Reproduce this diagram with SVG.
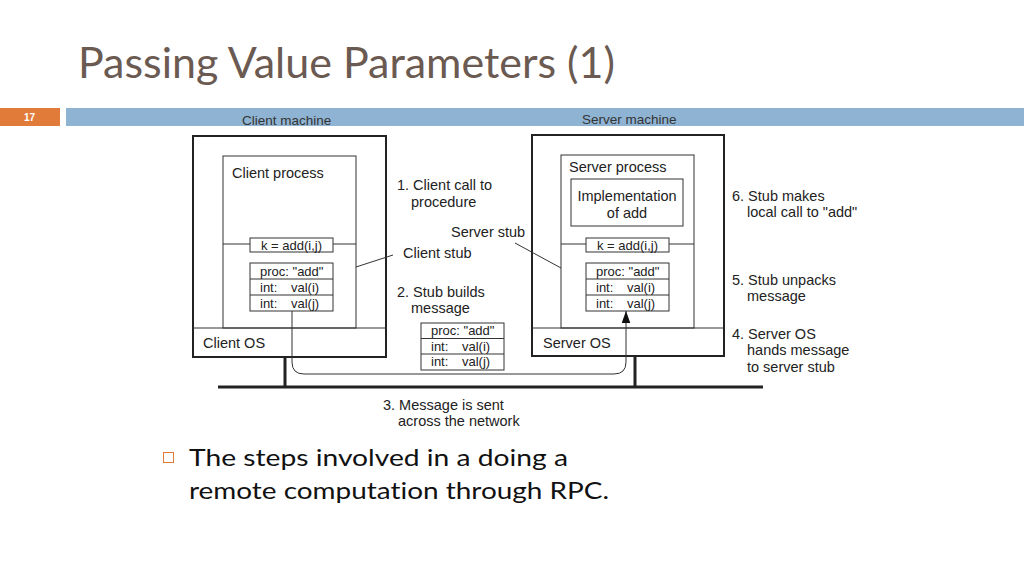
<svg xmlns="http://www.w3.org/2000/svg" width="1024" height="576" viewBox="0 0 1024 576">
<style>
.t{font-family:"Liberation Sans",Arial,sans-serif;font-size:14.5px;fill:#222}
.s{font-family:"Liberation Sans",Arial,sans-serif;font-size:13px;fill:#222}
.outer{fill:none;stroke:#222;stroke-width:2}
.inner{fill:none;stroke:#333;stroke-width:1}
.box{fill:#fff;stroke:#333;stroke-width:1}
.net{stroke:#222;stroke-width:3;fill:none}
.hdr{font-family:"Liberation Sans",Arial,sans-serif;font-size:13.5px;fill:#333}
.body{font-family:"Lato","Noto Sans",sans-serif;font-size:23px;fill:#111;font-variant-ligatures:none}
</style>
<defs>
<marker id="ah" viewBox="0 0 14 10" refX="14" refY="5" markerWidth="12" markerHeight="9" markerUnits="userSpaceOnUse" orient="auto">
<path d="M0,0 L14,5 L0,10 Z" fill="#111"/>
</marker>
</defs>
<rect width="1024" height="576" fill="#fff"/>
<text x="78" y="78" font-family="Lato,'Noto Sans',sans-serif" font-size="42" fill="#6b5a51" textLength="537" lengthAdjust="spacingAndGlyphs">Passing Value Parameters (1)</text>
<rect x="0" y="108" width="60" height="18" fill="#e07b39"/>
<text x="24" y="121" font-family="'Liberation Sans',Arial,sans-serif" font-size="10" font-weight="bold" fill="#fff">17</text>
<rect x="66" y="108" width="958" height="18" fill="#8fb4d3"/>
<text class="hdr" x="242" y="125">Client machine</text>
<text class="hdr" x="582" y="124">Server machine</text>

<g id="client-machine">
<rect class="outer" x="193" y="136" width="193" height="221"/>
<line class="inner" x1="193" y1="328" x2="386" y2="328"/>
<text class="t" x="203" y="348">Client OS</text>
</g>
<g id="client-process">
<rect class="inner" x="223" y="156" width="133" height="172"/>
<text class="t" x="232" y="178">Client process</text>
<line class="inner" x1="223" y1="244" x2="356" y2="244"/>
</g>
<g id="client-call">
<rect class="box" x="250" y="238" width="83" height="14"/>
<text class="s" x="291.5" y="249.5" text-anchor="middle">k = add(i,j)</text>
</g>
<g id="client-msg">
<rect class="box" x="250" y="263" width="83" height="48"/>
<line class="inner" x1="250" y1="279" x2="333" y2="279"/>
<line class="inner" x1="250" y1="295" x2="333" y2="295"/>
<text class="s" x="260" y="275.5">proc: "add"</text>
<text class="s" x="260" y="291.5">int:</text><text class="s" x="291" y="291.5">val(i)</text>
<text class="s" x="260" y="307.5">int:</text><text class="s" x="291" y="307.5">val(j)</text>
</g>

<g id="server-machine">
<rect class="outer" x="532" y="135" width="192" height="221"/>
<line class="inner" x1="532" y1="328" x2="724" y2="328"/>
<text class="t" x="543" y="348">Server OS</text>
</g>
<g id="server-process">
<rect class="inner" x="561" y="155" width="133" height="173"/>
<text class="t" x="569" y="172">Server process</text>
<line class="inner" x1="561" y1="244" x2="694" y2="244"/>
</g>
<g id="implementation">
<rect class="box" x="571" y="179" width="112" height="47"/>
<text class="t" x="627" y="201" text-anchor="middle">Implementation</text>
<text class="t" x="627" y="218" text-anchor="middle">of add</text>
</g>
<g id="server-call">
<rect class="box" x="586" y="238" width="83" height="14"/>
<text class="s" x="627.5" y="249.5" text-anchor="middle">k = add(i,j)</text>
</g>
<g id="server-msg">
<rect class="box" x="586" y="263" width="83" height="48"/>
<line class="inner" x1="586" y1="279" x2="669" y2="279"/>
<line class="inner" x1="586" y1="295" x2="669" y2="295"/>
<text class="s" x="596" y="275.5">proc: "add"</text>
<text class="s" x="596" y="291.5">int:</text><text class="s" x="627" y="291.5">val(i)</text>
<text class="s" x="596" y="307.5">int:</text><text class="s" x="627" y="307.5">val(j)</text>
</g>

<g id="transit-msg">
<rect class="box" x="421" y="323" width="83" height="47"/>
<line class="inner" x1="421" y1="338.5" x2="504" y2="338.5"/>
<line class="inner" x1="421" y1="354" x2="504" y2="354"/>
<text class="s" x="431" y="335">proc: "add"</text>
<text class="s" x="431" y="350.5">int:</text><text class="s" x="462" y="350.5">val(i)</text>
<text class="s" x="431" y="366">int:</text><text class="s" x="462" y="366">val(j)</text>
</g>

<g id="connectors">
<line class="net" x1="218" y1="387" x2="763" y2="387"/>
<line class="net" x1="285" y1="357" x2="285" y2="387"/>
<line class="net" x1="635" y1="356" x2="635" y2="387"/>
<path class="inner" d="M292,311 V362 Q292,374 304,374 H614 Q626,374 626,362 V311" marker-end="url(#ah)"/>
<line class="inner" x1="356" y1="267" x2="393" y2="255"/>
<line class="inner" x1="515" y1="243" x2="561" y2="268"/>
</g>

<g id="labels">
<text class="t" x="397" y="190">1. Client call to</text>
<text class="t" x="411" y="207">procedure</text>
<text class="t" x="451" y="237">Server stub</text>
<text class="t" x="403" y="258">Client stub</text>
<text class="t" x="397" y="297">2. Stub builds</text>
<text class="t" x="411" y="313">message</text>
<text class="t" x="383" y="410">3. Message is sent</text>
<text class="t" x="398" y="426">across the network</text>
<text class="t" x="732" y="201">6. Stub makes</text>
<text class="t" x="747" y="217">local call to "add"</text>
<text class="t" x="732" y="285">5. Stub unpacks</text>
<text class="t" x="747" y="301">message</text>
<text class="t" x="732" y="339">4. Server OS</text>
<text class="t" x="747" y="355">hands message</text>
<text class="t" x="747" y="372">to server stub</text>
</g>

<rect x="163.5" y="452.5" width="10" height="10" fill="none" stroke="#e07b39" stroke-width="1"/>
<text class="body" x="189" y="466" textLength="379" lengthAdjust="spacingAndGlyphs">The steps involved in a doing a</text>
<text class="body" x="189" y="499" textLength="420" lengthAdjust="spacingAndGlyphs">remote computation through RPC.</text>
</svg>
